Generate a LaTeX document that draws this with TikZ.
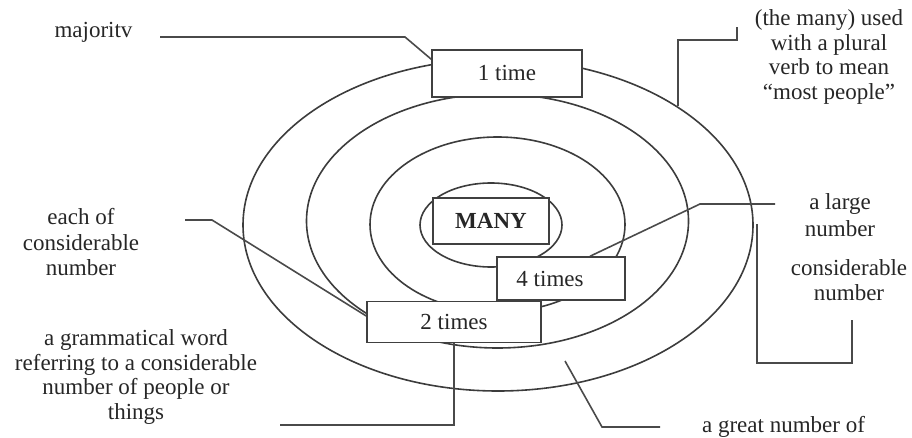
\documentclass[tikz,border=0pt]{standalone}
\usepackage{fontspec}
\setmainfont{Liberation Serif}
\definecolor{ringgray}{HTML}{3C3C3C}
\definecolor{leadgray}{HTML}{4A4A4A}
\definecolor{boxgray}{HTML}{404040}
\definecolor{inkgray}{HTML}{262626}
\pgfdeclarelayer{under}
\pgfsetlayers{under,main}
\begin{document}
\begin{tikzpicture}[x=1pt,y=-1pt,
  ring/.style={draw=ringgray, line width=1.6pt},
  leader/.style={draw=leadgray, line width=1.6pt},
  wordbox/.style={draw=boxgray, line width=1.5pt, fill=white, inner sep=0pt,
                  text=inkgray, font=\fontsize{23}{25}\selectfont},
  gloss/.style={text=inkgray, align=center, inner sep=0pt,
                font=\fontsize{23}{24.5}\selectfont}]
\useasboundingbox (0,0) rectangle (912,438);

% glosses
\node[gloss, anchor=base] (maj) at (93.5,38) {majoritv};
\node[gloss] (themany) at (829,57) {(the many) used\\with a plural\\verb to mean\\“most people”};
\node[gloss, font=\fontsize{23}{27}\selectfont] (large) at (840,215) {a large\\number};
\node[gloss] (consid) at (849,280) {considerable\\number};
\node[gloss, font=\fontsize{23}{25.5}\selectfont] (eachof) at (81,242.5) {each of\\considerable\\number};
\node[gloss] (gramm) at (136,377) {a grammatical word\\referring to a considerable\\number of people or\\things};
\node[gloss, anchor=base] (great) at (783.5,432) {a great number of};

% boxes sitting on the rings
\node[wordbox, minimum width=150pt, minimum height=47pt] (t1) at (507,73.5) {1 time};
\node[wordbox, minimum width=116pt, minimum height=46pt] (many) at (491,221) {\bfseries MANY};
\node[wordbox, minimum width=128pt, minimum height=43pt] (t4) at (561,278.5) {4 times\hspace*{22pt}};
\node[wordbox, minimum width=174pt, minimum height=41pt] (t2) at (454,322) {2 times};

% leader line bends and free ends
\coordinate (majA) at (160,37);
\coordinate (majB) at (405,37);
\coordinate (manyA) at (678,106);
\coordinate (manyB) at (737,27);
\coordinate (largeB) at (700,204);
\coordinate (largeC) at (775,204);
\coordinate (consA) at (757,224);
\coordinate (consB) at (852,320);
\coordinate (eachA) at (185,220);
\coordinate (eachB) at (212,220);
\coordinate (gramA) at (280,425);
\coordinate (greatA) at (565,361);
\coordinate (greatB) at (602,427);
\coordinate (greatC) at (660,427);

\begin{pgfonlayer}{under}
% concentric rings
\draw[ring] (498,225) ellipse [x radius=255pt, y radius=166pt];
\draw[ring] (497.5,221) ellipse [x radius=191pt, y radius=127pt];
\draw[ring] (497.5,224.5) ellipse [x radius=127.5pt, y radius=87.5pt];
\draw[ring] (491,225) ellipse [x radius=71pt, y radius=42pt];

% leader lines
\draw[leader] (majA) -- (majB) -- ([yshift=-10pt]t1.north west);
\draw[leader] (manyA) |- ([yshift=-13pt]manyB) -- (manyB);
\draw[leader] ([xshift=29pt]t4.north) -- (largeB) -- (largeC);
\draw[leader] (consA) |- ([yshift=-43pt]consB) -- (consB);
\draw[leader] (eachA) -- (eachB) -- ([yshift=6pt]t2.west);
\draw[leader] (t2.south) |- (gramA);
\draw[leader] (greatA) -- (greatB) -- (greatC);
\end{pgfonlayer}
\end{tikzpicture}
\end{document}
